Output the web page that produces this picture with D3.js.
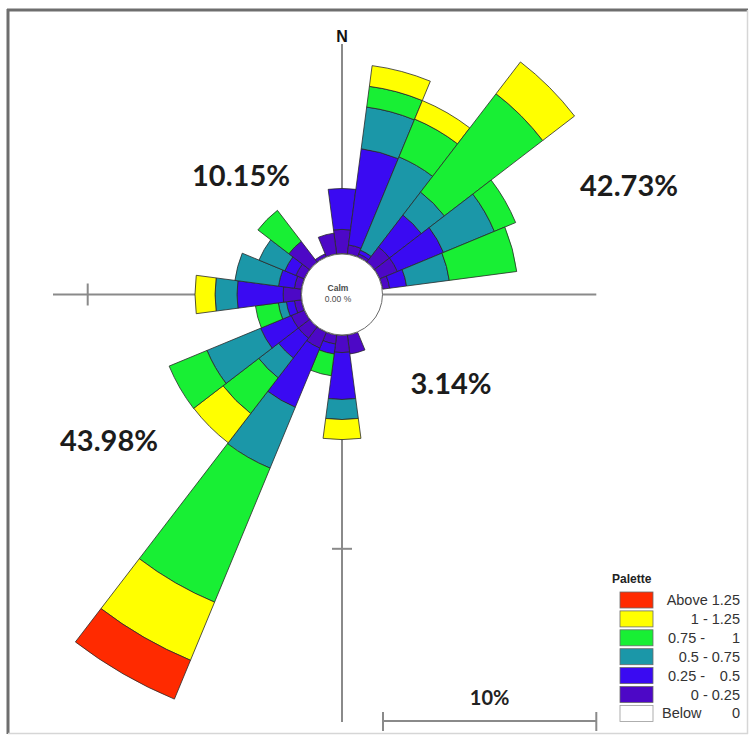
<!DOCTYPE html>
<html>
<head>
<meta charset="utf-8">
<script src="https://cdn.jsdelivr.net/npm/d3@7"></script>
<style>
  body { margin: 0; background: #ffffff; }
  svg { display: block; }
</style>
</head>
<body>
<svg id="rose" width="750" height="741"></svg>
<script>
// Wind directions (compass degrees, clockwise from north), 24 sectors of 15°
const directions = [0, 15, 30, 45, 60, 75, 90, 105, 120, 135, 150, 165,
                    180, 195, 210, 225, 240, 255, 270, 285, 300, 315, 330, 345];

// Frequency (%) per speed class, one value per direction above
const speed0to025   = [1.13, 0.42, 0.14, 0.89, 0.89, 0.33, 0, 0, 0, 0, 0, 0.89,
                       0.80, 0.42, 0.80, 0.66, 0.66, 0.33, 0.84, 0.33, 0.42, 1.22, 0.14, 0.98];
const speed025to05  = [1.92, 4.55, 0.19, 1.88, 2.34, 0.80, 0, 0, 0, 0, 0, 0,
                       2.20, 0.47, 3.00, 1.17, 1.55, 0.38, 2.16, 0.75, 0.56, 0, 0, 0];
const speed05to075  = [0, 1.97, 4.73, 1.36, 2.58, 2.02, 0, 0, 0, 0, 0, 0,
                       0.94, 0, 3.09, 1.17, 2.72, 0.38, 1.03, 2.06, 1.31, 0, 0, 0];
const speed075to1   = [0, 0.98, 1.92, 5.81, 1.08, 3.19, 0, 0, 0, 0, 0, 0,
                       0, 1.03, 6.80, 2.11, 1.92, 1.08, 0, 0, 0, 1.83, 0, 0];
const speed1to125   = [0, 0.98, 0.94, 1.88, 0, 0, 0, 0, 0, 0, 0, 0,
                       0.94, 0, 2.95, 1.73, 0, 0, 0.94, 0, 0, 0, 0, 0];
const speedAbove125 = [0, 0, 0, 0, 0, 0, 0, 0, 0, 0, 0, 0,
                       0, 0, 1.97, 0, 0, 0, 0, 0, 0, 0, 0, 0];

// Speed classes from the centre outward
const classSeries = [speed0to025, speed025to05, speed05to075, speed075to1, speed1to125, speedAbove125];
const classColors = ["#4d08c6", "#3a0af2", "#1b97a8", "#18ef34", "#ffff00", "#ff2a00"];

// Legend (top to bottom)
const legendLabels = [["Above 1.25", ""], ["1 - 1.25", ""], ["0.75 -", "1"], ["0.5 - 0.75", ""],
                      ["0.25 -", "0.5"], ["0 - 0.25", ""], ["Below", "0"]];
const legendColors = ["#ff2a00", "#ffff00", "#18ef34", "#1b97a8", "#3a0af2", "#4d08c6", "#ffffff"];

// Quadrant totals
const quadrantLabels = [
  { text: "10.15%", x: 241, y: 186 },
  { text: "42.73%", x: 629, y: 196 },
  { text: "3.14%",  x: 451, y: 394 },
  { text: "43.98%", x: 109, y: 451 }
];
const calmText = ["Calm", "0.00 %"];
const scaleLabel = "10%";
const scaleValue = 10;

const svg = d3.select("#rose");
const cx = 342, cy = 294.5;
const calmRadius = 40.5;

// Radial scale: percent -> pixels, starting at the calm circle
const r = d3.scaleLinear().domain([0, scaleValue]).range([41, 41 + 213.3]);

// Frame
svg.append("rect").attr("x", 0).attr("y", 0).attr("width", 750).attr("height", 741).attr("fill", "#fff");
svg.append("line").attr("x1", 7).attr("x2", 748).attr("y1", 10).attr("y2", 10)
   .attr("stroke", "#6e6e6e").attr("stroke-width", 3);
svg.append("line").attr("x1", 8).attr("x2", 8).attr("y1", 9).attr("y2", 734)
   .attr("stroke", "#6e6e6e").attr("stroke-width", 3);
svg.append("line").attr("x1", 747.5).attr("x2", 747.5).attr("y1", 10).attr("y2", 734)
   .attr("stroke", "#d6d6d6").attr("stroke-width", 1.5);
svg.append("line").attr("x1", 8).attr("x2", 748).attr("y1", 733.5).attr("y2", 733.5)
   .attr("stroke", "#d6d6d6").attr("stroke-width", 1.5);

// Axes through the centre
const axisG = svg.append("g").attr("stroke", "#8a8a8a").attr("stroke-width", 2);
axisG.append("line").attr("x1", cx).attr("x2", cx).attr("y1", 44).attr("y2", 722);
axisG.append("line").attr("x1", 53).attr("x2", cx + r(scaleValue)).attr("y1", cy).attr("y2", cy);
// 10% ticks
axisG.append("line").attr("x1", cx - r(scaleValue)).attr("x2", cx - r(scaleValue))
     .attr("y1", cy - 11).attr("y2", cy + 11);
axisG.append("line").attr("x1", cx - 10).attr("x2", cx + 10)
     .attr("y1", cy + r(scaleValue)).attr("y2", cy + r(scaleValue));

svg.append("text").attr("x", cx).attr("y", 42).attr("text-anchor", "middle")
   .attr("font-family", "Liberation Sans, Arial, sans-serif").attr("font-weight", "bold")
   .attr("font-size", 16).attr("fill", "#111").text("N");

// Petals: stacked arc segments per direction
const half = 7.5 * Math.PI / 180;
const arc = d3.arc();
const petals = svg.append("g").attr("transform", `translate(${cx},${cy})`);
directions.forEach((deg, i) => {
  let cum = 0;
  const a = deg * Math.PI / 180;
  classSeries.forEach((series, k) => {
    const v = series[i];
    if (v <= 0) return;
    const inner = r(cum);
    cum += v;
    const outer = r(cum);
    petals.append("path")
      .attr("d", arc({ innerRadius: inner, outerRadius: outer, startAngle: a - half, endAngle: a + half }))
      .attr("fill", classColors[k])
      .attr("stroke", "#2a2a2a").attr("stroke-width", 0.8).attr("stroke-linejoin", "round");
  });
});

// Calm circle
svg.append("circle").attr("cx", cx).attr("cy", cy).attr("r", calmRadius)
   .attr("fill", "#fff").attr("stroke", "#6a6a6a").attr("stroke-width", 1);
svg.append("text").attr("x", cx - 4).attr("y", 291).attr("text-anchor", "middle")
   .attr("font-family", "Liberation Sans, Arial, sans-serif").attr("font-size", 8.5)
   .attr("font-weight", "bold").attr("fill", "#4a4a4a").text(calmText[0]);
svg.append("text").attr("x", cx - 4).attr("y", 302).attr("text-anchor", "middle")
   .attr("font-family", "Liberation Sans, Arial, sans-serif").attr("font-size", 8.5)
   .attr("fill", "#4a4a4a").text(calmText[1]);

// Quadrant totals
svg.selectAll("text.quad").data(quadrantLabels).join("text")
   .attr("class", "quad").attr("x", d => d.x).attr("y", d => d.y).attr("text-anchor", "middle")
   .attr("font-family", "Lato, sans-serif").attr("font-weight", "bold").attr("font-size", 29)
   .attr("fill", "#1c1c1c").text(d => d.text);

// Scale bar (length of one scaleValue step on the radial scale)
const sbY = 721, sbX0 = 383, sbLen = r(scaleValue) - r(0);
const sb = svg.append("g").attr("stroke", "#8a8a8a").attr("stroke-width", 2);
sb.append("line").attr("x1", sbX0).attr("x2", sbX0 + sbLen).attr("y1", sbY).attr("y2", sbY);
sb.append("line").attr("x1", sbX0).attr("x2", sbX0).attr("y1", sbY - 9).attr("y2", sbY + 10);
sb.append("line").attr("x1", sbX0 + sbLen).attr("x2", sbX0 + sbLen).attr("y1", sbY - 9).attr("y2", sbY + 10);
svg.append("text").attr("x", sbX0 + sbLen / 2).attr("y", 705).attr("text-anchor", "middle")
   .attr("font-family", "Lato, sans-serif").attr("font-weight", "bold").attr("font-size", 20)
   .attr("fill", "#222").text(scaleLabel);

// Legend
const lg = svg.append("g");
lg.append("text").attr("x", 612).attr("y", 583)
  .attr("font-family", "Liberation Sans, Arial, sans-serif").attr("font-weight", "bold")
  .attr("font-size", 12).attr("fill", "#222").text("Palette");
legendLabels.forEach((lab, i) => {
  const y = 592 + i * 18.9;
  lg.append("rect").attr("x", 620).attr("y", y).attr("width", 33).attr("height", 16)
    .attr("fill", legendColors[i]).attr("stroke", i === 6 ? "#9a9a9a" : "#6a6a6a").attr("stroke-width", 0.8);
  const t = lab[1] === "" ? lab[0] : lab[1];
  lg.append("text").attr("x", 740).attr("y", y + 13).attr("text-anchor", "end")
    .attr("font-family", "Liberation Sans, Arial, sans-serif").attr("font-size", 14.5)
    .attr("fill", "#333").text(t);
  if (lab[1] !== "") {
    lg.append("text").attr("x", i === 6 ? 662 : 668).attr("y", y + 13)
      .attr("font-family", "Liberation Sans, Arial, sans-serif").attr("font-size", 14.5)
      .attr("fill", "#333").text(lab[0]);
  }
});
</script>
</body>
</html>
